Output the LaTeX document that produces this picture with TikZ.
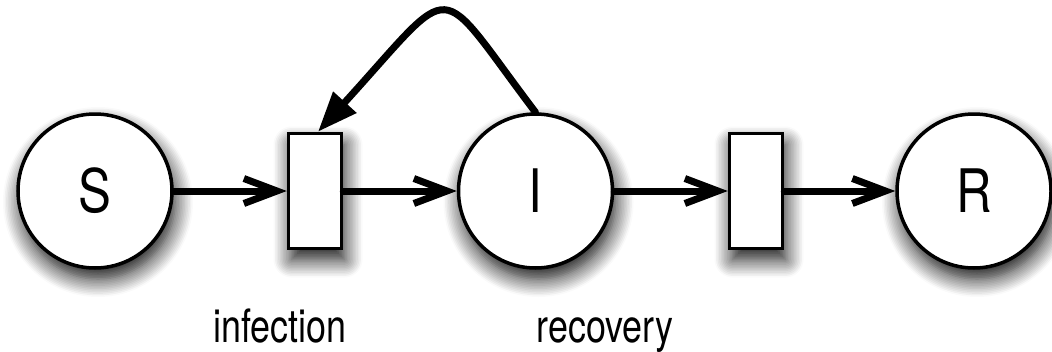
\documentclass[tikz,border=0pt]{standalone}
\usepackage{fontspec}
\setmainfont{TeX Gyre Heros}
\usepackage{graphicx}
\usetikzlibrary{arrows.meta,shadows.blur}
\begin{document}
\begin{tikzpicture}[x=1pt,y=-1pt,
  shade/.style={blur shadow={shadow xshift=3pt,shadow yshift=-11pt,shadow blur radius=18pt,shadow opacity=95,shadow blur steps=12}},
  place/.style={circle,draw,line width=3.5pt,fill=white,minimum size=154pt,inner sep=0pt,shade,
                font=\fontsize{60}{72}\selectfont},
  transition/.style={rectangle,draw,line width=3.5pt,fill=white,minimum width=53pt,minimum height=115pt,inner sep=0pt,shade},
  lbl/.style={font=\fontsize{46}{54}\selectfont,inner sep=0pt,anchor=base},
  flow/.style={line width=7pt,line cap=round,-{Straight Barb[length=33pt,width=25pt,line width=7pt]}},
  feedback/.style={line width=7pt,line cap=round,-{Triangle[length=40pt,width=30pt]}}]
  \useasboundingbox (0,0) rectangle (1052,351);
  % places and transitions
  \node[place] (S) at (95,191) {\scalebox{0.82}[1]{S}};
  \node[transition] (inf) at (315,191) {};
  \node[place] (I) at (535.5,191) {\scalebox{0.82}[1]{I}};
  \node[transition] (rec) at (756,191) {};
  \node[place] (R) at (974,191) {\scalebox{0.82}[1]{R}};
  % transition names
  \node[lbl] (linf) at (280,342) {\scalebox{0.78}[1]{infection}};
  \node[lbl] (lrec) at (605,342) {\scalebox{0.78}[1]{recovery}};
  % arcs
  \draw[flow] (S.east) -- (inf.west);
  \draw[flow] (inf.east) -- (I.west);
  \draw[flow] (I.east) -- (rec.west);
  \draw[flow] (rec.east) -- (R.west);
  \draw[feedback] (I.north) .. controls (433,-23) and (459,-23) .. ([xshift=3pt]inf.north);
\end{tikzpicture}
\end{document}
